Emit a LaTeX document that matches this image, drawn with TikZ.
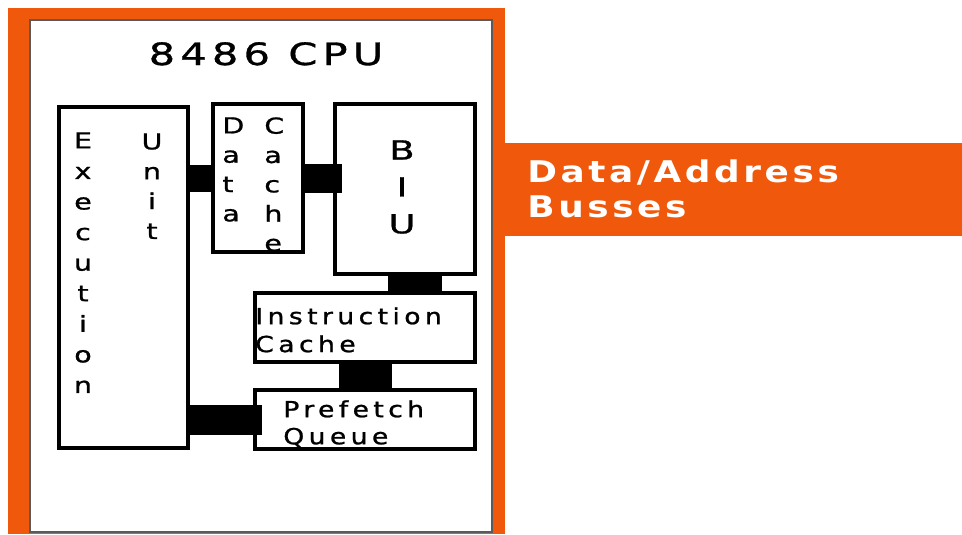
\documentclass[tikz,border=0pt]{standalone}
\usepackage{fontspec}
\usetikzlibrary{positioning,calc}
\newfontfamily\cpufont[FakeStretch=1.2,LetterSpace=12,FakeBold=1]{DejaVu Sans}
\newfontfamily\busfont[FakeStretch=1.2,LetterSpace=12]{DejaVu Sans}
\definecolor{cpuorange}{RGB}{240,88,12}
\definecolor{framegray}{RGB}{90,90,90}

\begin{document}
\begin{tikzpicture}[x=0.02cm,y=-0.02cm,
	% Node styles
	block/.style={
		rectangle,
		draw=black,
		line width=2pt,
		fill=white,
		inner sep=0pt,
		outer sep=0pt
	},
	letters/.style={
		font=\cpufont\addfontfeature{FakeStretch=1.3}\fontsize{12.5}{#1}\selectfont,
		align=center,
		inner sep=0pt,
		anchor=north
	},
	boxtext/.style={
		font=\cpufont\addfontfeature{LetterSpace=20}\fontsize{12.6}{#1}\selectfont,
		align=left,
		inner sep=0pt,
		anchor=north west
	},
	bus/.style={
		draw=black,
		line width=#1
	}
	]
	
	% Page and frame
	\useasboundingbox (0,0) rectangle (962,534);
	\fill[white] (0,0) rectangle (962,534);
	\fill[cpuorange] (8,8) rectangle (505,534);
	\fill[cpuorange] (492,143) rectangle (962,236);
	\draw[framegray, line width=0.6pt, fill=white] (30,20) rectangle (492,532);
	
	% Bus label
	\node[font=\busfont\bfseries\fontsize{17}{20.4}\selectfont, text=white, align=left, anchor=north west, inner sep=0pt] (bustext) at (527,159) {Data/Address\\Busses};
	
	% Title
	\node[font=\cpufont\addfontfeature{FakeStretch=1.35,LetterSpace=17}\fontsize{17.5}{20}\selectfont, inner sep=0pt, anchor=base] (title) at (266,65) {8486 CPU};
	
	% Blocks
	\node[block, minimum width=2.58cm, minimum height=6.82cm] (eu) at (123.5,277.5) {};
	\node[block, minimum width=1.8cm, minimum height=2.96cm] (dc) at (258,178) {};
	\node[block, minimum width=2.8cm, minimum height=3.4cm] (biu) at (405,189) {};
	\node[block, minimum width=4.4cm, minimum height=1.38cm] (ic) at (365,327.5) {};
	\node[block, minimum width=4.4cm, minimum height=1.18cm] (pq) at (365,419.5) {};
	
	% Block texts
	\node[letters=17.4pt] (eutext) at (83,132) {E\\x\\e\\c\\u\\t\\i\\o\\n};
	\node[letters=17pt] (unittext) at (152,133) {U\\n\\i\\t};
	\node[letters=16.7pt, align=left, anchor=north west] (datatext) at (222,117) {D\\a\\t\\a};
	\node[letters=16.7pt, align=left, anchor=north west] (cachetext) at (264,117) {C\\a\\c\\h\\e};
	\node[letters=21pt, font=\cpufont\addfontfeature{FakeStretch=1.4}\fontsize{15}{21}\selectfont] (biutext) at (402,140) {B\\I\\U};
	\node[boxtext=15.9pt] (ictext) at (255,307) {Instruction\\Cache};
	\node[boxtext=15.4pt] (pqtext) at (283,400) {Prefetch\\Queue};
	
	% Busses between blocks
	\draw[bus=0.54cm] (eu.east |- dc.west) -- (dc.west);
	\draw[bus=0.58cm] (dc.east) -- ([xshift=0.14cm]dc.east -| biu.west);
	\draw[bus=1.08cm] ([xshift=0.2cm]biu.south) -- ([xshift=0.2cm]biu.south |- ic.north);
	\draw[bus=1.06cm] (ic.south) -- (pq.north);
	\draw[bus=0.6cm] (eu.east |- pq.west) -- ([xshift=0.14cm]pq.west);
	
\end{tikzpicture}
\end{document}
